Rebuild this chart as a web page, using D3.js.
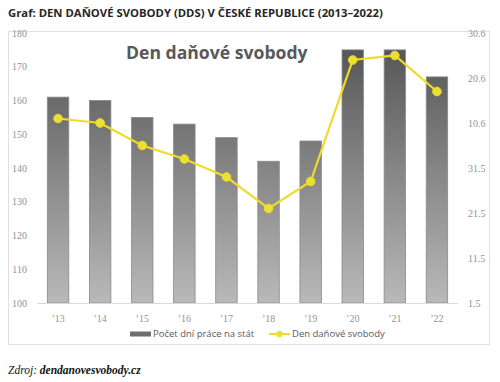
<!DOCTYPE html>
<html>
<head>
<meta charset="utf-8">
<script src="https://cdn.jsdelivr.net/npm/d3@7"></script>
<style>
  body { margin: 0; background: #fff; }
  svg { display: block; }
</style>
</head>
<body>
<svg id="chart" width="500" height="382"></svg>
<script>
// Data
const years = ["’13", "’14", "’15", "’16", "’17", "’18", "’19", "’20", "’21", "’22"];
const daysForState = [161, 160, 155, 153, 149, 142, 148, 175, 175, 167];
const freedomDay = ["11.6", "10.6", "5.6", "2.6", "29.5", "22.5", "28.5", "24.6", "25.6", "17.6"];
const leftTicks = [100, 110, 120, 130, 140, 150, 160, 170, 180];
const rightTicks = ["1.5", "11.5", "21.5", "31.5", "10.6", "20.6", "30.6"];

const toDate = s => {
  const [d, m] = s.split(".").map(Number);
  return new Date(2021, m - 1, d);
};

const svg = d3.select("#chart");
const GRAY_TXT = "#939393";
const YELLOW = "#f0da2a";

// Title
svg.append("text")
  .attr("x", 8).attr("y", 17)
  .attr("font-family", "Open Sans, sans-serif")
  .attr("font-size", 11.3)
  .attr("font-weight", 700)
  .attr("fill", "#262626")
  .text("Graf: DEN DAŇOVÉ SVOBODY (DDS) V ČESKÉ REPUBLICE (2013–2022)");

// Chart frame
svg.append("rect")
  .attr("x", 8.5).attr("y", 31.5)
  .attr("width", 481).attr("height", 313)
  .attr("fill", "#fff")
  .attr("stroke", "#e0e0e0");

const plot = { left: 37, right: 458, top: 33, bottom: 303 };

const x = d3.scaleBand().domain(years).range([plot.left, plot.right]).paddingInner(0.49).paddingOuter(0.245);
const yL = d3.scaleLinear().domain([100, 180]).range([plot.bottom, plot.top]);
const yR = d3.scaleTime().domain([toDate("1.5"), toDate("30.6")]).range([plot.bottom, plot.top]);

// Gradient for bars
const defs = svg.append("defs");
const grad = defs.append("linearGradient")
  .attr("id", "barGrad")
  .attr("gradientUnits", "userSpaceOnUse")
  .attr("x1", 0).attr("x2", 0)
  .attr("y1", yL(178)).attr("y2", plot.bottom);
grad.append("stop").attr("offset", "0%").attr("stop-color", "#535353");
grad.append("stop").attr("offset", "100%").attr("stop-color", "#b9b9b9");

// Left axis labels
svg.append("g").selectAll("text")
  .data(leftTicks)
  .join("text")
  .attr("x", 27).attr("y", d => yL(d))
  .attr("dy", "0.35em")
  .attr("text-anchor", "end")
  .attr("font-family", "Liberation Serif, serif")
  .attr("font-size", 10)
  .attr("fill", GRAY_TXT)
  .text(d => d);

// Right axis labels
svg.append("g").selectAll("text")
  .data(rightTicks)
  .join("text")
  .attr("x", 468).attr("y", d => yR(toDate(d)))
  .attr("dy", "0.35em")
  .attr("font-family", "Liberation Serif, serif")
  .attr("font-size", 10)
  .attr("fill", GRAY_TXT)
  .text(d => d);

// Bars
svg.append("g").selectAll("rect")
  .data(daysForState)
  .join("rect")
  .attr("x", (d, i) => x(years[i]))
  .attr("y", d => yL(d))
  .attr("width", x.bandwidth())
  .attr("height", d => plot.bottom - yL(d))
  .attr("fill", "url(#barGrad)")
  .attr("stroke", "#8a8a8a")
  .attr("stroke-width", 0.8);

// Baseline
svg.append("line")
  .attr("x1", plot.left).attr("x2", plot.right)
  .attr("y1", plot.bottom + 0.5).attr("y2", plot.bottom + 0.5)
  .attr("stroke", "#d9d9d9");

// X labels
svg.append("g").selectAll("text")
  .data(years)
  .join("text")
  .attr("x", d => x(d) + x.bandwidth() / 2)
  .attr("y", 322)
  .attr("text-anchor", "middle")
  .attr("font-family", "Liberation Serif, serif")
  .attr("font-size", 10)
  .attr("fill", GRAY_TXT)
  .text(d => d);

// Freedom day line
const pts = freedomDay.map((d, i) => [x(years[i]) + x.bandwidth() / 2, yR(toDate(d))]);
svg.append("path")
  .attr("d", d3.line()(pts))
  .attr("fill", "none")
  .attr("stroke", YELLOW)
  .attr("stroke-width", 2.2);
svg.append("g").selectAll("circle")
  .data(pts)
  .join("circle")
  .attr("cx", d => d[0]).attr("cy", d => d[1])
  .attr("r", 4.3)
  .attr("fill", "#e9e232")
  .attr("stroke", YELLOW)
  .attr("stroke-width", 1);

// Inner title
svg.append("text")
  .attr("x", 126).attr("y", 59)
  .attr("font-family", "Open Sans, sans-serif")
  .attr("font-size", 17.6)
  .attr("font-weight", 700)
  .attr("fill", "#595959")
  .text("Den daňové svobody");

// Legend
const lg = svg.append("g")
  .attr("font-family", "Open Sans, sans-serif")
  .attr("font-size", 9.5)
  .attr("fill", "#595959");
lg.append("rect")
  .attr("x", 130).attr("y", 331.5)
  .attr("width", 21).attr("height", 5)
  .attr("fill", "#6e6e6e");
lg.append("text").attr("x", 153).attr("y", 334).attr("dy", "0.35em").text("Počet dní práce na stát");
lg.append("line")
  .attr("x1", 269).attr("x2", 290).attr("y1", 334).attr("y2", 334)
  .attr("stroke", YELLOW).attr("stroke-width", 2.2);
lg.append("circle")
  .attr("cx", 279.5).attr("cy", 334).attr("r", 3.2)
  .attr("fill", "#e9e232");
lg.append("text").attr("x", 292).attr("y", 334).attr("dy", "0.35em").text("Den daňové svobody");

// Source
const src = svg.append("text")
  .attr("x", 8).attr("y", 374)
  .attr("font-family", "Liberation Serif, serif")
  .attr("font-size", 11.5)
  .attr("font-style", "italic")
  .attr("fill", "#111");
src.append("tspan").text("Zdroj: ");
src.append("tspan").attr("font-weight", 700).text("dendanovesvobody.cz");
</script>
</body>
</html>
